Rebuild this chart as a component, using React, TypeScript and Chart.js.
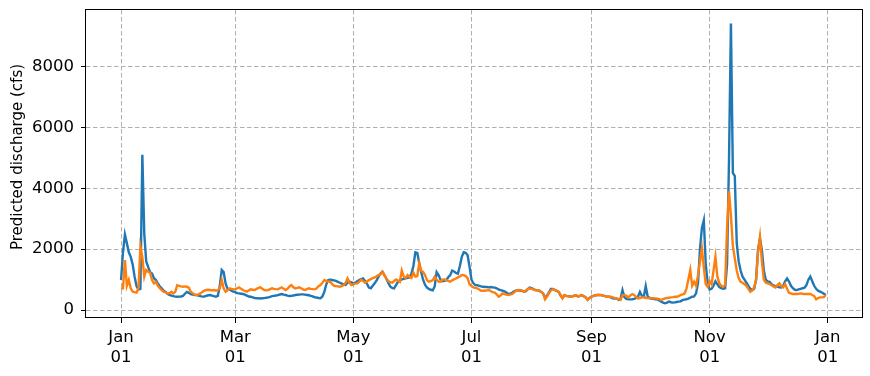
import React, { useEffect, useRef } from "react";
import { Chart, registerables } from "chart.js";

Chart.register(...registerables);

// Daily predicted discharge (cfs), day 0 = Jan 01
const seriesBlue: number[] = [
  990, 1900, 2480, 2200, 1900, 1750, 1500, 1100, 790, 680,
  700, 5100, 2500, 1600, 1420, 1250, 1200, 1050, 990, 880,
  780, 720, 640, 600, 540, 500, 480, 460, 445, 440,
  445, 450, 470, 540, 600, 570, 530, 510, 500, 497,
  480, 460, 445, 450, 470, 490, 497, 480, 460, 445,
  470, 800, 1320, 1250, 880, 700, 680, 640, 610, 590,
  560, 550, 540, 530, 510, 480, 450, 440, 420, 400,
  390, 390, 385, 390, 395, 410, 420, 440, 460, 470,
  480, 497, 515, 530, 510, 497, 480, 465, 470, 480,
  497, 505, 510, 520, 520, 510, 500, 490, 470, 450,
  425, 415, 400, 395, 450, 600, 850, 990, 1000, 990,
  980, 960, 930, 900, 870, 840, 830, 900, 930, 910,
  880, 900, 950, 990, 1020, 1040, 960, 870, 740, 720,
  800, 880, 980, 1100, 1200, 1260, 1150, 1040, 900, 780,
  730, 716, 820, 930, 980, 1010, 1030, 1043, 1060, 1076,
  1200, 1450, 1900, 1880, 1550, 1250, 1000, 840, 740, 700,
  670, 650, 780, 1250, 1150, 1000, 950, 960, 990, 1080,
  1150, 1300, 1270, 1220, 1200, 1450, 1750, 1900, 1880, 1800,
  1420, 1000, 880, 825, 820, 800, 780, 770, 760, 760,
  750, 760, 750, 740, 720, 680, 660, 640, 620, 580,
  530, 540, 570, 620, 640, 660, 640, 640, 610, 620,
  680, 740, 720, 690, 660, 650, 640, 600, 550, 400,
  480, 580, 700, 700, 670, 630, 600, 480, 400, 490,
  470, 460, 450, 445, 480, 490, 450, 470, 495, 460,
  420, 340, 400, 445, 470, 490, 497, 500, 495, 480,
  460, 445, 440, 420, 390, 385, 380, 340, 380, 660,
  430, 370, 356, 355, 360, 370, 400, 440, 600, 470,
  440, 790, 450, 400, 377, 370, 360, 355, 320, 280,
  250, 225, 250, 280, 260, 250, 255, 270, 280, 290,
  330, 345, 360, 380, 410, 443, 450, 550, 900, 2000,
  2700, 2950, 1500, 900, 680, 700, 800, 950, 850, 760,
  720, 700, 720, 1500, 4900, 9400, 4500, 4400, 2200, 1600,
  1300, 1100, 1000, 900, 800, 700, 660, 700, 1000, 2000,
  2350, 1970, 1300, 1000, 940, 930, 850, 810, 790, 770,
  750, 745, 800, 950, 1040, 940, 800, 720, 670, 660,
  680, 700, 720, 740, 820, 1000, 1100, 950, 800, 700,
  640, 610, 580, 540, 500,
];

const seriesOrange: number[] = [
  700, 720, 1640, 800, 990, 720, 610, 590, 574, 720,
  2080, 1750, 1100, 1320, 1260, 1230, 990, 880, 930, 800,
  720, 660, 606, 580, 555, 560, 606, 552, 600, 820,
  800, 780, 770, 780, 770, 740, 606, 560, 510, 497,
  520, 552, 600, 640, 661, 670, 661, 650, 660, 640,
  661, 716, 990, 720, 606, 650, 716, 700, 690, 683,
  720, 748, 700, 661, 630, 606, 650, 683, 670, 661,
  700, 730, 748, 700, 661, 650, 661, 690, 716, 700,
  690, 683, 720, 748, 700, 661, 700, 780, 825, 750,
  716, 730, 748, 720, 680, 661, 690, 716, 700, 690,
  683, 720, 790, 825, 900, 988, 960, 940, 933, 860,
  800, 790, 780, 770, 790, 825, 900, 1043, 900, 825,
  850, 870, 880, 930, 1000, 960, 901, 940, 988, 1020,
  1050, 1076, 1110, 1152, 1180, 1261, 1150, 1043, 960, 920,
  901, 950, 1010, 970, 933, 1300, 1100, 1050, 1152, 1100,
  1060, 1228, 1100, 1120, 1530, 1300, 1261, 1150, 988, 933,
  950, 988, 1097, 1000, 940, 933, 1000, 1010, 988, 960,
  933, 980, 1010, 1040, 1076, 1110, 1152, 1150, 1119, 1050,
  850, 790, 748, 730, 716, 680, 639, 640, 639, 650,
  661, 620, 590, 574, 520, 443, 480, 552, 530, 510,
  497, 510, 530, 580, 639, 650, 661, 640, 606, 640,
  690, 716, 700, 680, 661, 650, 639, 600, 552, 356,
  450, 552, 650, 683, 661, 640, 606, 500, 388, 497,
  465, 455, 450, 443, 480, 497, 443, 470, 497, 460,
  421, 334, 400, 443, 470, 490, 497, 500, 497, 480,
  460, 443, 440, 443, 420, 400, 388, 360, 334, 497,
  500, 470, 421, 480, 530, 500, 440, 388, 400, 420,
  421, 410, 400, 388, 390, 395, 388, 380, 360, 334,
  360, 388, 400, 410, 421, 430, 443, 440, 460, 497,
  520, 540, 700, 1000, 1316, 800, 933, 800, 1150, 1600,
  2025, 1400, 850, 770, 950, 850, 1300, 1750, 1100, 880,
  800, 770, 825, 2700, 3900, 3100, 2100, 1700, 1300, 1050,
  930, 900, 850, 800, 700, 606, 650, 750, 1000, 1900,
  2400, 1600, 1000, 900, 880, 860, 820, 780, 748, 820,
  880, 792, 750, 860, 700, 570, 552, 530, 530, 530,
  540, 552, 540, 530, 530, 530, 530, 500, 465, 356,
  400, 421, 421, 430, 497,
];

const xTickDays: number[] = [0, 59, 120, 181, 243, 304, 365];
const xTickLabels: string[][] = [
  ["Jan", "01"], ["Mar", "01"], ["May", "01"], ["Jul", "01"],
  ["Sep", "01"], ["Nov", "01"], ["Jan", "01"],
];
const yTicks: number[] = [0, 2000, 4000, 6000, 8000];
const yTitle = "Predicted discharge (cfs)";

const FONT = "'DejaVu Sans', sans-serif";

const framePlugin = {
  id: "frame",
  afterDatasetsDraw(chart: any) {
    const { ctx, chartArea } = chart;
    const { left, top, right, bottom } = chartArea;
    ctx.save();
    ctx.strokeStyle = "#000";
    ctx.lineWidth = 1;
    ctx.setLineDash([]);
    ctx.strokeRect(left - 0.5, top - 0.5, right - left + 1, bottom - top);
    ctx.restore();
  },
  afterDraw(chart: any) {
    const { ctx } = chart;
    ctx.save();
    ctx.translate(18, 157);
    ctx.rotate(-Math.PI / 2);
    ctx.fillStyle = "#000";
    ctx.font = `15px ${FONT}`;
    ctx.textAlign = "center";
    ctx.textBaseline = "middle";
    ctx.fillText(yTitle, 0, 0);
    ctx.restore();
  },
};

export default function App() {
  const ref = useRef<HTMLCanvasElement | null>(null);

  useEffect(() => {
    if (!ref.current) return;
    const toPoints = (arr: number[]) => arr.map((v, i) => ({ x: i, y: v }));
    const gridOpts = {
      color: "#b0b0b0",
      lineWidth: 1,
      tickLength: 5,
      tickColor: "#000",
      tickWidth: 1,
      tickBorderDash: [1, 0],
    };
    const borderOpts = { display: false, dash: [4.5, 2.5] };
    const chart = new Chart(ref.current, {
      type: "line",
      data: {
        datasets: [
          {
            label: "blue",
            data: toPoints(seriesBlue),
            borderColor: "#1f77b4",
            borderWidth: 2.4,
            pointRadius: 0,
            tension: 0,
            fill: false,
            order: 1,
          },
          {
            label: "orange",
            data: toPoints(seriesOrange),
            borderColor: "#ff7f0e",
            borderWidth: 2.4,
            pointRadius: 0,
            tension: 0,
            fill: false,
            order: 0,
          },
        ],
      },
      options: {
        animation: false,
        responsive: false,
        devicePixelRatio: 1,
        layout: { padding: { top: 10, right: 8, left: 0, bottom: 0 } },
        plugins: {
          legend: { display: false },
          tooltip: { enabled: false },
        },
        scales: {
          x: {
            type: "linear",
            min: -18.1,
            max: 382.7,
            afterFit: (s: any) => {
              s.height = 58;
              s.paddingLeft = 0;
              s.paddingRight = 0;
            },
            afterBuildTicks: (s: any) => {
              s.ticks = xTickDays.map((v) => ({ value: v }));
            },
            border: borderOpts,
            grid: gridOpts,
            ticks: {
              autoSkip: false,
              maxRotation: 0,
              minRotation: 0,
              padding: 5,
              color: "#000",
              font: { family: FONT, size: 16.5 },
              callback: (v: any) => {
                const i = xTickDays.indexOf(Number(v));
                return i >= 0 ? xTickLabels[i] : "";
              },
            },
          },
          y: {
            type: "linear",
            min: -256,
            max: 9846,
            afterFit: (s: any) => {
              s.width = 86;
              s.paddingTop = 0;
              s.paddingBottom = 0;
            },
            afterBuildTicks: (s: any) => {
              s.ticks = yTicks.map((v) => ({ value: v }));
            },
            border: borderOpts,
            grid: gridOpts,
            ticks: {
              padding: 7,
              color: "#000",
              font: { family: FONT, size: 16.5 },
              callback: (v: any) => String(v),
            },
          },
        },
      },
      plugins: [framePlugin],
    } as any);
    return () => chart.destroy();
  }, []);

  return (
    <div style={{ position: "absolute", left: 0, top: 0, width: 870, height: 376, background: "#fff" }}>
      <canvas ref={ref} width={870} height={376} style={{ display: "block", width: 870, height: 376 }} />
    </div>
  );
}
